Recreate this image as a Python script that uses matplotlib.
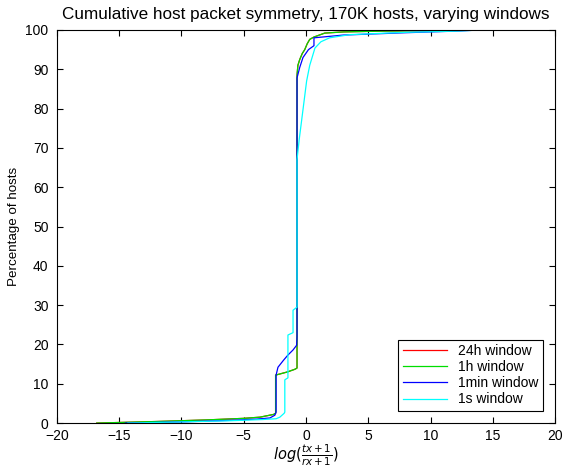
import matplotlib
matplotlib.use("Agg")
import matplotlib.pyplot as plt

plt.rcParams['font.family'] = ['Liberation Sans', 'DejaVu Sans']

# 24h window (almost identical to 1h, hidden underneath)
x_24h = [-16.8, -12, -8, -5, -3.7, -2.6, -2.44, -2.44, -1.5, -0.88, -0.72, -0.72, -0.65,
         -0.5, -0.3, -0.1, 0.1, 0.3, 0.64, 1.5, 3, 6, 10, 15, 20]
y_24h = [0, 0.4, 0.8, 1.2, 1.5, 2.2, 2.5, 12.2, 13.0, 13.7, 14.0, 88.5, 91.0,
         92.5, 94.0, 95.0, 96.5, 97.6, 98.2, 99.2, 99.5, 99.7, 99.85, 99.95, 100]
# 1h window
x_1h = list(x_24h)
y_1h = list(y_24h)
# 1min window
x_1min = [-14.5, -10, -6, -4, -2.9, -2.5, -2.4, -2.4, -2.25, -1.8, -1.45, -1.04, -0.75,
          -0.72, -0.72, -0.5, -0.24, 0.2, 0.64, 0.64, 3, 8, 12, 14, 18]
y_1min = [0, 0.3, 0.7, 1.0, 1.3, 2.0, 2.8, 12.2, 14.2, 16.0, 17.3, 18.6, 19.8,
          22.0, 87.8, 90.5, 93.0, 95.0, 96.0, 98.0, 98.7, 99.3, 99.7, 100, 100]
# 1s window
x_1s = [-14.3, -10, -6, -3.5, -2.4, -2.1, -1.75, -1.7, -1.7, -1.45, -1.45, -1.04, -1.04,
        -0.72, -0.72, -0.55, -0.35, -0.15, 0.05, 0.3, 0.72, 1.2, 1.9, 3.5, 8, 12, 14.1]
y_1s = [0, 0.3, 0.6, 0.9, 1.1, 1.5, 2.5, 2.8, 11.0, 11.5, 22.4, 23.0, 28.7,
        29.5, 67.0, 72.0, 77.0, 82.0, 87.0, 91.0, 95.4, 97.0, 98.0, 98.8, 99.4, 99.7, 100]

fig = plt.figure(figsize=(5.63, 4.68), dpi=100)
ax = fig.add_axes([0.101, 0.096, 0.885, 0.840])

ax.plot(x_24h, y_24h, color='#ff0000', lw=0.9, label='24h window')
ax.plot(x_1h, y_1h, color='#00dd00', lw=0.9, label='1h window')
ax.plot(x_1min, y_1min, color='#0000ff', lw=0.9, label='1min window')
ax.plot(x_1s, y_1s, color='#00ffff', lw=0.9, label='1s window')

ax.set_xlim(-20, 20)
ax.set_ylim(0, 100)
ax.set_xticks(range(-20, 21, 5))
ax.set_yticks(range(0, 101, 10))
ax.tick_params(direction='in', top=True, right=True, labelsize=10, length=4)
ax.tick_params(axis='y', pad=6)
ax.tick_params(axis='x', pad=4)
ax.set_xticklabels(['\u221220', '\u221215', '\u221210', '\u22125', '0', '5', '10', '15', '20'])

ax.set_title('Cumulative host packet symmetry, 170K hosts, varying windows', fontsize=12.3, pad=8)
ax.set_ylabel('Percentage of hosts', fontsize=9.6)
ax.set_xlabel(r'$log(\frac{tx+1}{rx+1})$', fontsize=10.5, labelpad=0)

leg = ax.legend(loc='lower right', fontsize=10, fancybox=False, framealpha=1,
                edgecolor='black', borderaxespad=0.9, handlelength=3.2,
                labelspacing=0.15, borderpad=0.3)
leg.get_frame().set_linewidth(0.8)

fig.savefig('out.png', dpi=100)
